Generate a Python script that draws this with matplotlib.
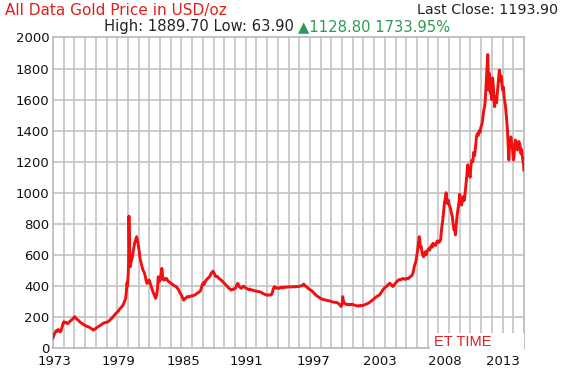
import matplotlib
matplotlib.use("Agg")
import matplotlib.pyplot as plt
from matplotlib.patches import Rectangle
import numpy as np

# ---------------- data ----------------
years = [
    1973.26, 1973.35, 1973.45, 1973.55, 1973.65, 1973.72, 1973.8, 1973.88, 1973.95, 1974.05,
    1974.15, 1974.22, 1974.3, 1974.4, 1974.5, 1974.6, 1974.7, 1974.8, 1974.9, 1975.0,
    1975.1, 1975.19, 1975.28, 1975.38, 1975.48, 1975.58, 1975.68, 1975.78, 1975.88, 1975.98,
    1976.1, 1976.22, 1976.34, 1976.46, 1976.58, 1976.7, 1976.81, 1976.92, 1977.02, 1977.14,
    1977.25, 1977.36, 1977.48, 1977.58, 1977.69, 1977.8, 1977.9, 1978.02, 1978.13, 1978.24,
    1978.35, 1978.46, 1978.57, 1978.68, 1978.78, 1978.88, 1979.0, 1979.1, 1979.2, 1979.3,
    1979.38, 1979.45, 1979.53, 1979.6, 1979.68, 1979.74, 1979.8, 1979.84, 1979.88, 1979.91,
    1979.94, 1979.97, 1980.0, 1980.04, 1980.09, 1980.15, 1980.21, 1980.27, 1980.34, 1980.41,
    1980.47, 1980.53, 1980.6, 1980.65, 1980.7, 1980.76, 1980.82, 1980.88, 1980.94, 1981.0,
    1981.06, 1981.14, 1981.22, 1981.3, 1981.35, 1981.42, 1981.5, 1981.56, 1981.62, 1981.68,
    1981.74, 1981.8, 1981.88, 1981.96, 1982.04, 1982.09, 1982.16, 1982.24, 1982.3, 1982.33,
    1982.38, 1982.44, 1982.5, 1982.56, 1982.62, 1982.68, 1982.74, 1982.8, 1982.85, 1982.88,
    1982.92, 1982.97, 1983.03, 1983.1, 1983.18, 1983.27, 1983.36, 1983.45, 1983.55, 1983.62,
    1983.7, 1983.8, 1983.9, 1984.0, 1984.08, 1984.15, 1984.25, 1984.35, 1984.45, 1984.52,
    1984.6, 1984.7, 1984.8, 1984.88, 1984.96, 1985.05, 1985.12, 1985.18, 1985.28, 1985.38,
    1985.48, 1985.58, 1985.68, 1985.77, 1985.86, 1985.95, 1986.05, 1986.14, 1986.21, 1986.3,
    1986.38, 1986.44, 1986.5, 1986.56, 1986.62, 1986.68, 1986.74, 1986.8, 1986.88, 1986.96,
    1987.04, 1987.1, 1987.17, 1987.24, 1987.32, 1987.38, 1987.44, 1987.5, 1987.56, 1987.62,
    1987.68, 1987.76, 1987.84, 1987.92, 1988.0, 1988.06, 1988.12, 1988.2, 1988.3, 1988.4,
    1988.48, 1988.56, 1988.64, 1988.72, 1988.8, 1988.9, 1989.0, 1989.08, 1989.16, 1989.24,
    1989.32, 1989.38, 1989.46, 1989.52, 1989.59, 1989.66, 1989.72, 1989.8, 1989.88, 1989.96,
    1990.03, 1990.1, 1990.18, 1990.26, 1990.34, 1990.42, 1990.5, 1990.58, 1990.66, 1990.74,
    1990.82, 1990.9, 1991.0, 1991.1, 1991.2, 1991.3, 1991.4, 1991.5, 1991.6, 1991.7,
    1991.8, 1991.9, 1992.0, 1992.1, 1992.2, 1992.3, 1992.4, 1992.5, 1992.58, 1992.66,
    1992.72, 1992.78, 1992.83, 1992.9, 1992.98, 1993.06, 1993.14, 1993.22, 1993.3, 1993.4,
    1993.5, 1993.6, 1993.7, 1993.8, 1993.9, 1994.0, 1994.15, 1994.3, 1994.45, 1994.6,
    1994.75, 1994.9, 1995.05, 1995.15, 1995.25, 1995.35, 1995.42, 1995.5, 1995.6, 1995.7,
    1995.8, 1995.9, 1996.0, 1996.1, 1996.2, 1996.3, 1996.4, 1996.5, 1996.6, 1996.7,
    1996.8, 1996.9, 1997.0, 1997.1, 1997.2, 1997.3, 1997.4, 1997.5, 1997.6, 1997.7,
    1997.8, 1997.9, 1998.0, 1998.1, 1998.2, 1998.3, 1998.4, 1998.5, 1998.6, 1998.7,
    1998.76, 1998.82, 1998.86, 1998.9, 1998.95, 1998.98, 1999.1, 1999.2, 1999.3, 1999.4,
    1999.5, 1999.6, 1999.7, 1999.8, 1999.9, 2000.0, 2000.1, 2000.2, 2000.3, 2000.4,
    2000.5, 2000.6, 2000.7, 2000.8, 2000.9, 2001.0, 2001.1, 2001.2, 2001.3, 2001.4,
    2001.5, 2001.6, 2001.7, 2001.8, 2001.9, 2002.0, 2002.1, 2002.2, 2002.3, 2002.4,
    2002.5, 2002.6, 2002.7, 2002.8, 2002.9, 2003.0, 2003.1, 2003.2, 2003.3, 2003.4,
    2003.5, 2003.6, 2003.7, 2003.8, 2003.9, 2004.0, 2004.1, 2004.2, 2004.3, 2004.4,
    2004.5, 2004.6, 2004.7, 2004.8, 2004.9, 2005.0, 2005.06, 2005.12, 2005.2, 2005.28,
    2005.35, 2005.42, 2005.5, 2005.56, 2005.62, 2005.66, 2005.72, 2005.8, 2005.86, 2005.92,
    2006.0, 2006.08, 2006.16, 2006.24, 2006.32, 2006.38, 2006.46, 2006.54, 2006.62, 2006.7,
    2006.78, 2006.82, 2006.9, 2006.98, 2007.06, 2007.14, 2007.22, 2007.3, 2007.38, 2007.46,
    2007.52, 2007.56, 2007.62, 2007.7, 2007.78, 2007.86, 2007.94, 2008.0, 2008.05, 2008.12,
    2008.2, 2008.3, 2008.38, 2008.46, 2008.54, 2008.62, 2008.7, 2008.76, 2008.82, 2008.9,
    2008.98, 2009.06, 2009.14, 2009.2, 2009.28, 2009.36, 2009.44, 2009.52, 2009.6, 2009.68,
    2009.76, 2009.84, 2009.9, 2009.96, 2010.04, 2010.12, 2010.2, 2010.28, 2010.36, 2010.44,
    2010.52, 2010.6, 2010.68, 2010.76, 2010.84, 2010.92, 2011.0, 2011.08, 2011.16, 2011.24,
    2011.32, 2011.4, 2011.46, 2011.52, 2011.58, 2011.63, 2011.68, 2011.72, 2011.76, 2011.8,
    2011.86, 2011.92, 2011.98, 2012.04, 2012.1, 2012.16, 2012.22, 2012.28, 2012.34, 2012.4,
    2012.46, 2012.52, 2012.58, 2012.64, 2012.7, 2012.76, 2012.82, 2012.88, 2012.94, 2013.0,
    2013.06, 2013.12, 2013.18, 2013.24, 2013.3, 2013.36, 2013.42, 2013.48, 2013.54, 2013.58,
    2013.62, 2013.66, 2013.72, 2013.78, 2013.84, 2013.9, 2013.95, 2014.0, 2014.06, 2014.12,
    2014.18, 2014.24, 2014.3, 2014.36, 2014.42, 2014.48, 2014.54, 2014.6, 2014.66, 2014.72,
    2014.78, 2014.84, 2014.87,
]
prices = [
    66, 85, 100, 112, 108, 119, 112, 104, 108, 130,
    160, 169, 162, 166, 158, 159, 168, 175, 180, 188,
    195, 202, 192, 185, 180, 172, 165, 160, 156, 150,
    145, 140, 138, 134, 128, 122, 116, 120, 125, 132,
    137, 142, 148, 152, 159, 162, 165, 166, 169, 176,
    185, 192, 202, 212, 220, 228, 234, 245, 256, 262,
    270, 277, 290, 305, 320, 360, 420, 400, 450, 481,
    560, 850, 720, 600, 524, 550, 570, 588, 620, 650,
    674, 690, 705, 717, 700, 680, 653, 620, 580, 560,
    545, 520, 500, 490, 481, 460, 430, 416, 420, 430,
    438, 430, 410, 390, 375, 363, 350, 335, 325, 320,
    330, 352, 390, 459, 440, 430, 438, 470, 490, 513,
    480, 450, 438, 445, 440, 449, 440, 430, 425, 420,
    416, 410, 405, 400, 398, 395, 385, 375, 360, 350,
    341, 325, 309, 315, 320, 325, 330, 331, 328, 333,
    336, 335, 338, 341, 345, 350, 355, 358, 363, 370,
    390, 405, 416, 420, 410, 425, 430, 438, 445, 450,
    455, 459, 470, 481, 488, 495, 492, 480, 470, 465,
    459, 462, 455, 448, 445, 440, 438, 432, 425, 418,
    410, 406, 400, 392, 385, 380, 373, 376, 380, 378,
    382, 384, 400, 410, 416, 405, 395, 390, 384, 390,
    395, 398, 395, 388, 385, 382, 378, 376, 380, 375,
    374, 373, 370, 368, 366, 365, 364, 363, 360, 356,
    352, 348, 345, 341, 343, 340, 342, 341, 345, 360,
    380, 390, 395, 388, 385, 388, 386, 384, 388, 390,
    392, 388, 391, 393, 391, 393, 395, 392, 396, 393,
    397, 395, 398, 400, 402, 406, 412, 402, 398, 392,
    385, 378, 375, 370, 363, 355, 348, 340, 335, 330,
    325, 320, 316, 313, 312, 310, 308, 306, 305, 304,
    300, 298, 296, 295, 294, 293, 292, 285, 278, 268,
    272, 290, 331, 312, 295, 290, 285, 280, 282, 278,
    281, 279, 282, 278, 276, 274, 272, 270, 273, 271,
    275, 272, 276, 278, 282, 285, 288, 292, 298, 303,
    309, 315, 322, 328, 333, 337, 341, 352, 362, 372,
    382, 390, 395, 402, 410, 417, 412, 402, 396, 405,
    415, 425, 432, 438, 442, 440, 445, 448, 445, 442,
    448, 446, 450, 458, 462, 470, 481, 500, 530, 545,
    567, 600, 640, 680, 717, 700, 650, 653, 620, 600,
    588, 610, 620, 600, 625, 631, 640, 630, 650, 660,
    650, 674, 665, 670, 660, 675, 690, 685, 680, 690,
    700, 740, 780, 824, 880, 940, 970, 1000, 960, 930,
    950, 915, 900, 870, 850, 800, 760, 780, 728, 800,
    860, 900, 940, 990, 960, 920, 950, 975, 950, 1000,
    1060, 1120, 1180, 1150, 1120, 1100, 1180, 1210, 1200, 1260,
    1240, 1300, 1360, 1380, 1370, 1400, 1390, 1425, 1440, 1480,
    1530, 1554, 1600, 1683, 1760, 1830, 1890, 1780, 1660, 1770,
    1720, 1640, 1683, 1600, 1740, 1700, 1620, 1554, 1600, 1620,
    1580, 1640, 1690, 1740, 1790, 1760, 1720, 1750, 1690, 1660,
    1680, 1620, 1590, 1560, 1510, 1460, 1400, 1300, 1211, 1280,
    1340, 1300, 1360, 1320, 1297, 1250, 1211, 1240, 1300, 1340,
    1320, 1290, 1275, 1300, 1330, 1318, 1300, 1254, 1280, 1240,
    1211, 1180, 1147,
]
y_ticks = [0, 200, 400, 600, 800, 1000, 1200, 1400, 1600, 1800, 2000]
x_tick_labels = ["1973", "1979", "1985", "1991", "1997", "2003", "2008", "2013"]
title_text = "All Data Gold Price in USD/oz"
last_close_text = "Last Close: 1193.90"
high_low_text = "High: 1889.70 Low: 63.90"
change_text = "\u25B21128.80 1733.95%"
watermark_text = "ET TIME"

# ---------------- figure ----------------
W, H = 564, 372
fig = plt.figure(figsize=(W / 100, H / 100), dpi=100)
fig.patch.set_facecolor("white")

left_px, right_px, top_px, bottom_px = 53, 524, 37.5, 348
ax = fig.add_axes([left_px / W, 1 - bottom_px / H,
                   (right_px - left_px) / W, (bottom_px - top_px) / H])

x0, x1 = 1973.26, 2014.88
ax.set_xlim(x0, x1)
ax.set_ylim(0, 2000)

grid_color = "#c4c4c4"
ax.vlines(np.linspace(x0, x1, 45)[1:-1], 0, 2000, colors=grid_color,
          linewidths=1.2, zorder=1)
ax.hlines(y_ticks[1:-1], x0, x1, colors=grid_color, linewidths=1.2, zorder=1)
for s in ax.spines.values():
    s.set_color("#b8b8b8")
    s.set_linewidth(1.2)

ax.plot(years, prices, color="#f01010", lw=2.1, zorder=3)

tick_pos = [1973.43, 1979.08, 1984.76, 1990.35, 1996.23, 2002.12, 2007.86, 2013.0]
ax.set_xticks(tick_pos)
ax.set_xticklabels(x_tick_labels)
ax.set_yticks(y_ticks)
ax.set_yticklabels([str(v) for v in y_ticks])
ax.tick_params(axis="both", length=0, labelsize=9.5, colors="#111111")
ax.tick_params(axis="y", pad=2.5)
ax.tick_params(axis="x", pad=5.0)

# watermark box
fig.add_artist(Rectangle((430 / W, 1 - 350 / H), 94 / W, 17 / H,
                         transform=fig.transFigure, facecolor="white",
                         edgecolor="none", zorder=5))
fig.text(463 / W, 1 - 342 / H, watermark_text, color="#e02020",
         fontsize=10.5, ha="center", va="center", zorder=6,
         family=["Liberation Sans Narrow", "Liberation Sans", "DejaVu Sans"])

# header texts
fig.text(5 / W, 1 - 10 / H, title_text, color="#e0201c", fontsize=11,
         ha="left", va="center")
fig.text(558 / W, 1 - 10 / H, last_close_text, color="#222222", fontsize=10.3,
         ha="right", va="center")
t1 = fig.text(104 / W, 1 - 27 / H, high_low_text, color="#222222",
              fontsize=10.6, ha="left", va="center")
fig.canvas.draw()
ax.annotate(change_text, xy=(1, 0.5), xycoords=t1, xytext=(3, 0),
            textcoords="offset points", ha="left", va="center",
            color="#2e9a55", fontsize=10.6, annotation_clip=False)

fig.savefig("out.png", dpi=100, facecolor="white")
